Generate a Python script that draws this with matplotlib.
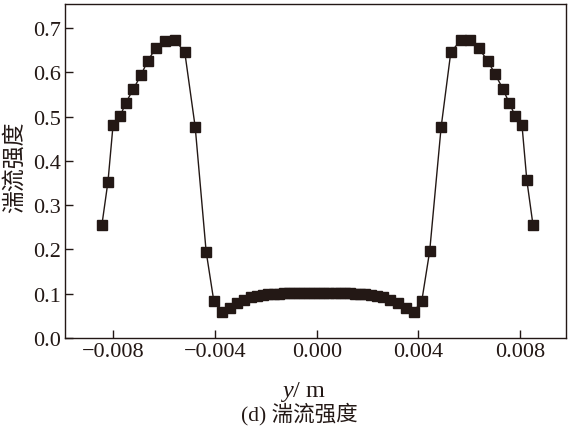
import matplotlib
matplotlib.use("Agg")
import matplotlib.pyplot as plt

plt.rcParams['font.family'] = ['Liberation Serif', 'Noto Sans CJK SC']
plt.rcParams['mathtext.fontset'] = 'custom'
plt.rcParams['mathtext.it'] = 'Liberation Serif:italic'
plt.rcParams['mathtext.rm'] = 'Liberation Serif'

y_pos = [-0.00845, -0.00821, -0.00801, -0.00772, -0.00752, -0.00722, -0.00692,
         -0.00665, -0.00633, -0.00596, -0.00558, -0.00519, -0.00478, -0.00435,
         -0.00405, -0.00372, -0.00343, -0.00313, -0.00285, -0.00260, -0.00235,
         -0.00212, -0.00190, -0.00170, -0.00150, -0.00130, -0.00110, -0.00090,
         -0.00070, -0.00050, -0.00030, -0.00010,
         0.00010, 0.00030, 0.00050, 0.00070, 0.00090, 0.00110, 0.00130,
         0.00150, 0.00170, 0.00190, 0.00212, 0.00237, 0.00262, 0.00289,
         0.00318, 0.00350, 0.00381, 0.00413, 0.00444, 0.00489, 0.00527,
         0.00567, 0.00604, 0.00636, 0.00673, 0.00702, 0.00733, 0.00757,
         0.00780, 0.00807, 0.00826, 0.00850]
intensity = [0.255, 0.353, 0.481, 0.502, 0.530, 0.561, 0.593,
             0.625, 0.655, 0.671, 0.673, 0.645, 0.476, 0.195,
             0.084, 0.058, 0.068, 0.079, 0.086, 0.0915, 0.0955,
             0.0975, 0.0985, 0.0995, 0.100, 0.1005, 0.101, 0.101,
             0.101, 0.101, 0.101, 0.101,
             0.101, 0.101, 0.101, 0.101, 0.101, 0.101, 0.1005,
             0.100, 0.0995, 0.0985, 0.0975, 0.0955, 0.0915, 0.086,
             0.079, 0.068, 0.059, 0.084, 0.196, 0.476, 0.645,
             0.673, 0.673, 0.655, 0.625, 0.595, 0.561, 0.530,
             0.502, 0.480, 0.356, 0.256]

xticks = [-0.008, -0.004, 0.000, 0.004, 0.008]
xticklabels = ['\u22120.008', '\u22120.004', '0.000', '0.004', '0.008']
yticks = [0.0, 0.1, 0.2, 0.3, 0.4, 0.5, 0.6, 0.7]

fig = plt.figure(figsize=(5.76, 4.27), dpi=100)
ax = fig.add_axes([65/576, 1-339/427, (566-65)/576, (339-5)/427])

ax.plot(y_pos, intensity, color='#231815', lw=1.0, marker='s',
        markersize=6.5, markerfacecolor='#231815', markeredgecolor='#231815')

ax.set_xlim(-0.0099, 0.0098)
ax.set_ylim(0.0, 0.754)
ax.set_xticks(xticks)
ax.set_xticklabels(xticklabels)
ax.set_yticks(yticks)
ax.set_yticklabels([f'{v:.1f}' for v in yticks])
ax.tick_params(direction='in', length=6, width=1.0, labelsize=16, pad=3,
               colors='#231815')
for s in ax.spines.values():
    s.set_linewidth(1.0)
    s.set_color('#231815')

fig.text(15/576, 1-167/427, '湍流强度', rotation=90, ha='center', va='center',
         fontsize=16.5, color='#231815')
fig.text(303/576, 1-392/427, '$y$/ m', ha='center', va='center',
         fontsize=17.5, color='#231815')
fig.text(299/576, 1-414/427, '(d) 湍流强度', ha='center', va='center',
         fontsize=15.5, color='#231815')

fig.savefig('out.png', dpi=100)
